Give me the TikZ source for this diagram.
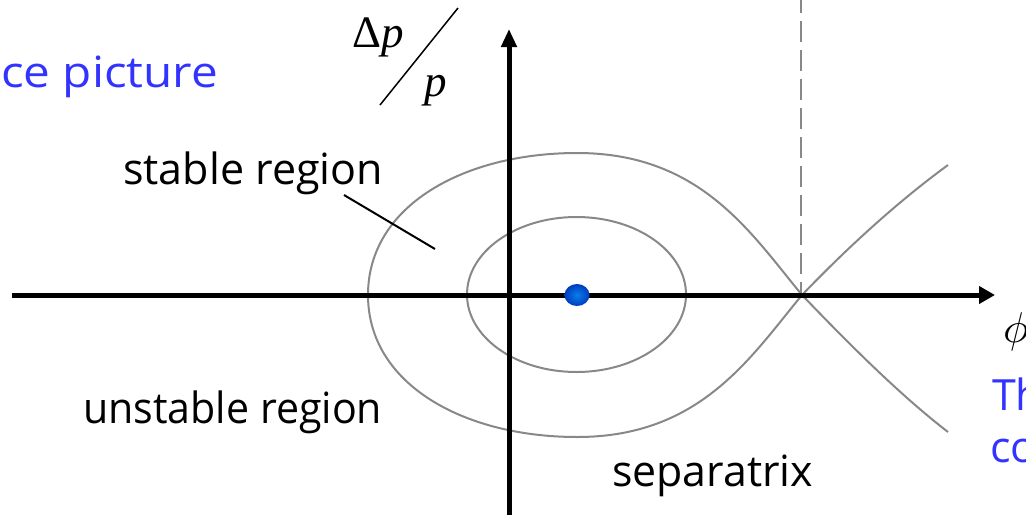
\documentclass[tikz,border=0pt]{standalone}
\usepackage{graphicx}
\usepackage{fontspec}
\setmainfont{Liberation Serif}
\newfontfamily\lab{Open Sans}
\usetikzlibrary{arrows.meta}
\definecolor{curvegray}{RGB}{136,136,136}
\definecolor{textblue}{RGB}{51,51,255}
\definecolor{dotblue}{RGB}{10,95,230}
\definecolor{dotdark}{RGB}{0,60,190}
\newlength\fitlen
\newcommand\fitw[2]{\settowidth{\fitlen}{#2}\pgfmathsetmacro\fitsx{#1/\fitlen}\scalebox{\fitsx}[1]{#2}}
\begin{document}
\begin{tikzpicture}[x=1pt,y=-1pt]
\tikzset{
  lbl/.style={font=\lab\fontsize{43}{50}\selectfont, inner sep=0pt, anchor=base west},
  blbl/.style={lbl, text=textblue},
  serif/.style={font=\fontsize{45}{52}\selectfont, inner sep=0pt, anchor=base west},
  curve/.style={draw=curvegray, line width=2pt},
  axis/.style={draw=black, line width=5pt},
  leader/.style={draw=black, line width=2pt},
}
\clip (0,0) rectangle (1026,515);
% coordinates
\coordinate (hl) at (12,295);
\coordinate (hr) at (995,295);
\coordinate (vb) at (509,515);
\coordinate (vt) at (509,29);
\coordinate (x0) at (802,295);
\coordinate (dtop) at (801,0);
\coordinate (sl) at (368,295);
\coordinate (st) at (577,153);
\coordinate (sb) at (577,437);
\coordinate (ur) at (948,165);
\coordinate (lr) at (948,432);
\coordinate (c0) at (576.5,294.5);
% dashed line
\draw[draw=curvegray, line width=2.5pt, dash pattern=on 21pt off 8pt, dash phase=8pt] (dtop) -- (801,295);
% separatrix
\draw[curve] (sl) .. controls (368,205) and (465,153) .. (st)
  .. controls (700,153) and (750,232) .. (x0)
  .. controls (850,245) and (900,200) .. (ur);
\draw[curve] (sl) .. controls (368,385) and (465,437) .. (sb)
  .. controls (700,437) and (750,358) .. (x0)
  .. controls (850,345) and (900,395) .. (lr);
% inner orbit
\draw[curve] (c0) ellipse [x radius=109.5, y radius=77.5];
% axes
\draw[axis, -{Triangle[length=16pt,width=17pt]}] (hl) -- (hr);
\draw[axis, -{Triangle[length=18pt,width=15pt]}] (vb) -- (vt);
% fixed point
\shade[inner color=dotblue!80!cyan, outer color=dotdark] (577,295) ellipse [x radius=12.5, y radius=11];
% labels
\node[blbl] (title) at (1,87) {\fitw{217}{ce picture}};
\node[lbl] (stable) at (123,184) {\fitw{260}{stable region}};
\node[lbl] (unstable) at (83,423) {\fitw{299}{unstable region}};
\node[lbl] (sep) at (612,486) {\fitw{201}{separatrix}};
\node[blbl] (th) at (992,410) {Th};
\node[blbl] (co) at (990,462) {co};
\coordinate (l1) at (344,195);
\coordinate (l2) at (435,249);
\draw[leader] (l1) -- (l2);
% axis labels
\node[serif] (dp) at (352,47) {Δ\textit{p}};
\node[serif] (pp) at (424,96) {\textit{p}};
\coordinate (s1) at (380,105);
\coordinate (s2) at (458,8);
\draw[line width=1.5pt] (s1) -- (s2);
\node[inner sep=0pt, anchor=base west] (phi) at (1003,342) {\scalebox{4.3}{$\phi$}};
\end{tikzpicture}
\end{document}
